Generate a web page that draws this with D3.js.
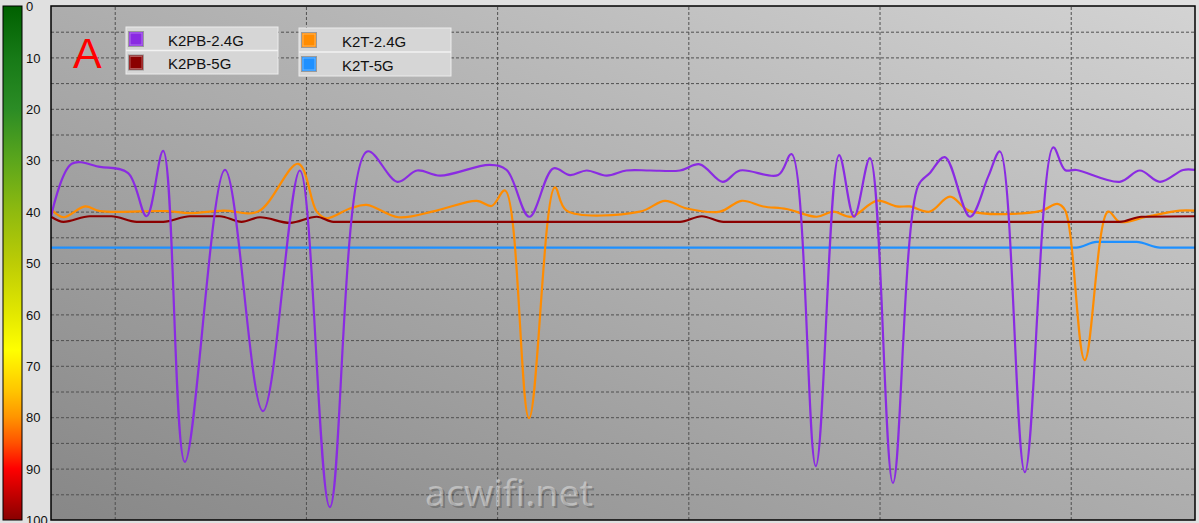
<!DOCTYPE html>
<html><head><meta charset="utf-8">
<script src="https://cdn.jsdelivr.net/npm/d3@7"></script>
<style>html,body{margin:0;padding:0;background:#e0e0e0;overflow:hidden}</style>
</head><body><svg id="c" width="1199" height="523"></svg>
<script>
// ---- data ----
const seriesNames = ["K2PB-2.4G", "K2PB-5G", "K2T-2.4G", "K2T-5G"];
const seriesColors = ["#8a2be2", "#8b0000", "#ff8c00", "#1e90ff"];

const k2pb24T = [0,6.5,15.4,24.2,30.0,35.2,42.0,54.6,66.5,78.1,87.5,99.2,108.7,114.9,122.1,137.7,143.0,150.1,157.6,162.9,168.1,174.4,180.6,188,197.4,203.6,210.8,216.2,228.2,232.4,240.0,247.3,252.0,257.0,264.2,272.1,275.8,280.5,288.4,294.1,297.8,305.6,314.5,318.2,321.8,335.4,341.7,348.0,355.3,359];
const k2pb24V = [41,30.7,31.3,32.5,40.9,28.2,88.7,31.9,78.8,32,97.5,28.3,34.2,32,33,30.9,31.9,41,31.6,32.9,32,33,32,32,32,30.8,34.2,32,32.9,28.8,89.5,29,41,29.6,92.8,35,32.5,29.4,41,33.2,28.3,90.7,27.5,31.9,31.9,34.2,32,34.2,31.9,31.9];

const k2pb5T = [0,3.9,12.2,19.0,26.9,35.2,43.6,53.0,59.8,65.6,75.0,83.4,88.6,93.8,197.4,204.2,211.0,335.4,342.2,359];
const k2pb5V = [41,42,40.9,40.9,42,42,40.9,40.9,42,41.1,42.2,41,42,42,42,40.9,42,42,41,40.9];

const k2t24T = [0,3.9,10.7,15.4,36.3,43.6,54.1,65.0,77.6,83.4,86.5,93.8,99.1,109.0,121.0,133.6,138.3,142.5,150.0,158.1,161.8,184.8,192.7,199.5,209.9,216.7,223.5,230.8,240.3,245.5,251.2,259.1,265.4,269.5,275.8,282.1,288.4,310.3,315.8,318.2,324.4,331.7,335.4,343.8,354.2,359];
const k2t24V = [39.5,41.1,39,39.9,39.9,40.3,39.8,40,30.7,40,41.3,39.4,38.7,41.1,39.8,37.9,38.9,35.9,80.2,35.3,39.8,40,37.9,39.4,40,37.9,39,39.5,41,40,41,37.9,39,39,40,37.1,39.9,39.9,38.5,39.7,68.9,40,42,41,39.8,39.8];

const k2t5T = [0,321.8,328.1,340.7,348.0,359];
const k2t5V = [47,47,45.9,45.9,47,47];

const yTickLabels = [0,10,20,30,40,50,60,70,80,90,100];
const yGridValues = d3.range(5, 100, 5);
const xGridTimes = [20,80,140,200,260,320];
const timeDomain = [0, 359];

// ---- layout ----
const svg = d3.select("#c");
const plot = {l: 51, t: 6, r: 1195, b: 520};
const x = d3.scaleLinear().domain(timeDomain).range([plot.l, plot.r]);
const y = d3.scaleLinear().domain([0, 100]).range([plot.t, plot.b]);

const defs = svg.append("defs");
const bg = defs.append("linearGradient").attr("id","bg")
  .attr("x1",0).attr("y1",1).attr("x2",1).attr("y2",0);
bg.append("stop").attr("offset",0).attr("stop-color","#878787");
bg.append("stop").attr("offset",1).attr("stop-color","#d3d3d3");

const cb = defs.append("linearGradient").attr("id","cb")
  .attr("x1",0).attr("y1",0).attr("x2",0).attr("y2",1);
[[0,"#006000"],[0.1,"#177a17"],[0.2,"#2b8c25"],[0.3,"#5ba61c"],[0.4,"#8fba0f"],[0.5,"#bccc05"],
 [0.6,"#e3e800"],[0.67,"#ffff00"],[0.75,"#ffc400"],[0.8,"#ff9400"],[0.85,"#ff5200"],[0.9,"#ff0000"],[1,"#880000"]]
 .forEach(s => cb.append("stop").attr("offset",s[0]).attr("stop-color",s[1]));

defs.append("clipPath").attr("id","clip").append("rect")
  .attr("x",plot.l).attr("y",plot.t).attr("width",plot.r-plot.l).attr("height",plot.b-plot.t);

svg.append("rect").attr("width",1199).attr("height",523).attr("fill","#e0e0e0");

// colour bar
svg.append("rect").attr("x",3).attr("y",y(0)).attr("width",19).attr("height",y(100)-y(0))
  .attr("fill","url(#cb)").attr("stroke","#000").attr("stroke-width",1);

const yAxis = svg.append("g").attr("transform","translate(23,0)")
  .call(d3.axisRight(y).tickValues(yTickLabels).tickSize(0).tickPadding(3));
yAxis.select(".domain").remove();
yAxis.selectAll("text").attr("font-family","Liberation Sans, Arial, sans-serif")
  .attr("font-size",13).attr("fill","#111").attr("dy","0.36em");

// plot background
svg.append("rect").attr("x",plot.l).attr("y",plot.t).attr("width",plot.r-plot.l).attr("height",plot.b-plot.t)
  .attr("fill","url(#bg)");

// grid
const gy = svg.append("g").attr("transform",`translate(${plot.l},0)`)
  .call(d3.axisLeft(y).tickValues(yGridValues).tickSize(-(plot.r-plot.l)).tickFormat(""));
gy.select(".domain").remove();
gy.selectAll("line").attr("stroke","#505050").attr("stroke-dasharray","3,2").attr("stroke-width",1);

const gx = svg.append("g").attr("transform",`translate(0,${plot.b})`)
  .call(d3.axisBottom(x).tickValues(xGridTimes).tickSize(-(plot.b-plot.t)).tickFormat(""));
gx.select(".domain").remove();
gx.selectAll("line").attr("stroke","#505050").attr("stroke-dasharray","3,2").attr("stroke-width",1);

// watermark
const wm = svg.append("g");
wm.append("text").attr("x",427).attr("y",508).text("acwifi.net")
  .attr("font-family","Noto Sans, sans-serif").attr("font-size",36)
  .attr("textLength",168).attr("lengthAdjust","spacingAndGlyphs")
  .attr("fill","rgba(0,0,0,0.2)");
wm.append("text").attr("x",425).attr("y",506).text("acwifi.net")
  .attr("font-family","Noto Sans, sans-serif").attr("font-size",36)
  .attr("textLength",168).attr("lengthAdjust","spacingAndGlyphs")
  .attr("fill","rgba(255,255,255,0.38)");

// lines
const lines = svg.append("g").attr("clip-path","url(#clip)");
const mk = (T, V) => T.map((t, i) => [t, V[i]]);
const drawSeries = [
  {data: mk(k2t5T, k2t5V), color: seriesColors[3], curve: d3.curveMonotoneX},
  {data: mk(k2t24T, k2t24V), color: seriesColors[2], curve: d3.curveCatmullRom.alpha(0.5)},
  {data: mk(k2pb5T, k2pb5V), color: seriesColors[1], curve: d3.curveMonotoneX},
  {data: mk(k2pb24T, k2pb24V), color: seriesColors[0], curve: d3.curveCatmullRom.alpha(0.5)}
];
drawSeries.forEach(s => {
  lines.append("path").attr("d", d3.line().x(d => x(d[0])).y(d => y(d[1])).curve(s.curve)(s.data))
    .attr("fill","none").attr("stroke",s.color).attr("stroke-width",2.2).attr("stroke-linejoin","round");
});

// plot border
svg.append("rect").attr("x",plot.l).attr("y",plot.t).attr("width",plot.r-plot.l).attr("height",plot.b-plot.t)
  .attr("fill","none").attr("stroke","#000").attr("stroke-width",1.5);

// "A"
svg.append("text").attr("x",73).attr("y",68).text("A")
  .attr("font-family","Liberation Sans, Arial, sans-serif").attr("font-size",43).attr("fill","#ff0000");

// legend
const legendBoxes = [
  {x: 126, y: 27, w: 152, h: 47, items: [0, 1]},
  {x: 299, y: 28, w: 152, h: 48, items: [2, 3]}
];
legendBoxes.forEach(b => {
  const g = svg.append("g").attr("transform",`translate(${b.x},${b.y})`);
  g.append("rect").attr("width",b.w).attr("height",b.h).attr("fill","#d6d6d6").attr("stroke","#ececec");
  g.append("line").attr("x1",0).attr("x2",b.w).attr("y1",b.h/2).attr("y2",b.h/2).attr("stroke","#f2f2f2").attr("stroke-width",1.5);
  b.items.forEach((k, i) => {
    const ry = i * b.h / 2;
    g.append("rect").attr("x",2.5).attr("y",ry+4.5).attr("width",15).attr("height",15)
      .attr("fill",seriesColors[k]).attr("stroke","#9a9a9a");
    g.append("rect").attr("x",4).attr("y",ry+6).attr("width",12).attr("height",12)
      .attr("fill","none").attr("stroke","rgba(255,255,255,0.35)");
    g.append("text").attr("x",b.x === 126 ? 42 : 43).attr("y",ry+18.5).text(seriesNames[k])
      .attr("font-family","Liberation Sans, Arial, sans-serif").attr("font-size",15).attr("fill","#111");
  });
});
</script></body></html>
